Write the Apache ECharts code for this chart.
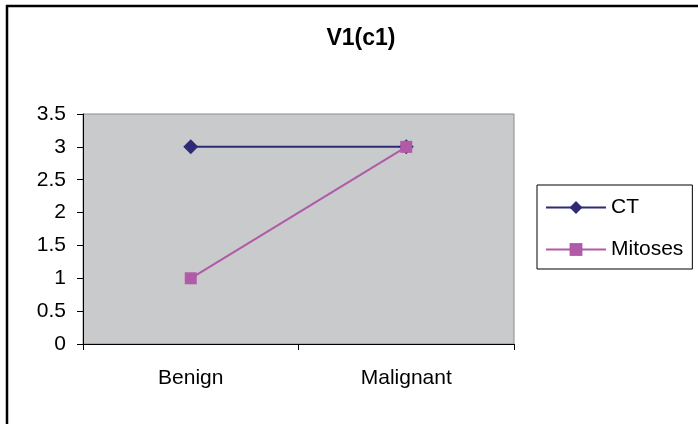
<!DOCTYPE html>
<html><head><meta charset="utf-8">
<script src="https://cdn.jsdelivr.net/npm/echarts@6/dist/echarts.min.js"></script>
<style>html,body{margin:0;padding:0;background:#fff}#c{width:698px;height:424px}</style>
</head><body><div id="c"></div>
<script>
const categories = ['Benign', 'Malignant'];
const ctValues = [3, 3];
const mitosesValues = [1, 3];
const titleText = 'V1(c1)';

const chart = echarts.init(document.getElementById('c'));
const font = 'Liberation Sans, Arial, sans-serif';
chart.setOption({
  animation: false,
  title: { text: titleText, left: 356, top: 22, textAlign: 'center',
    textStyle: { fontFamily: font, fontSize: 23, fontWeight: 'bold', color: '#000' } },
  graphic: [
    { type: 'line', shape: { x1: 6, y1: 6, x2: 698, y2: 6 }, style: { stroke: '#000', lineWidth: 2.5 } },
    { type: 'line', shape: { x1: 7, y1: 5, x2: 7, y2: 424 }, style: { stroke: '#000', lineWidth: 2.5 } }
  ],
  grid: { left: 83, top: 114, right: 184, bottom: 80, show: true,
    backgroundColor: '#C9CACC', borderColor: '#8C8C8C', borderWidth: 1 },
  legend: { orient: 'vertical', left: 537, top: 185, width: 156,
    borderColor: '#000', borderWidth: 1, padding: [12, 9, 9, 8], itemGap: 21,
    itemWidth: 60, itemHeight: 16,
    textStyle: { fontFamily: font, fontSize: 21, color: '#000' },
    data: ['CT', 'Mitoses'] },
  xAxis: { type: 'category', data: categories, boundaryGap: true,
    axisLine: { lineStyle: { color: '#000', width: 1 } },
    axisTick: { show: true, length: 6, lineStyle: { color: '#000' } },
    axisLabel: { fontFamily: font, fontSize: 21, color: '#000', margin: 24 } },
  yAxis: { type: 'value', min: 0, max: 3.5, interval: 0.5,
    axisLine: { show: true, lineStyle: { color: '#000', width: 1 } },
    axisTick: { show: true, length: 6, lineStyle: { color: '#000' } },
    splitLine: { show: false },
    axisLabel: { fontFamily: font, fontSize: 21, color: '#000', margin: 17 } },
  series: [
    { name: 'CT', type: 'line', data: ctValues, symbol: 'diamond', symbolSize: 15,
      lineStyle: { color: '#2E2A78', width: 2 }, itemStyle: { color: '#2E2A78' } },
    { name: 'Mitoses', type: 'line', data: mitosesValues, symbol: 'rect', symbolSize: 12,
      lineStyle: { color: '#B05AA8', width: 2 }, itemStyle: { color: '#B05AA8' } }
  ]
});
</script></body></html>
